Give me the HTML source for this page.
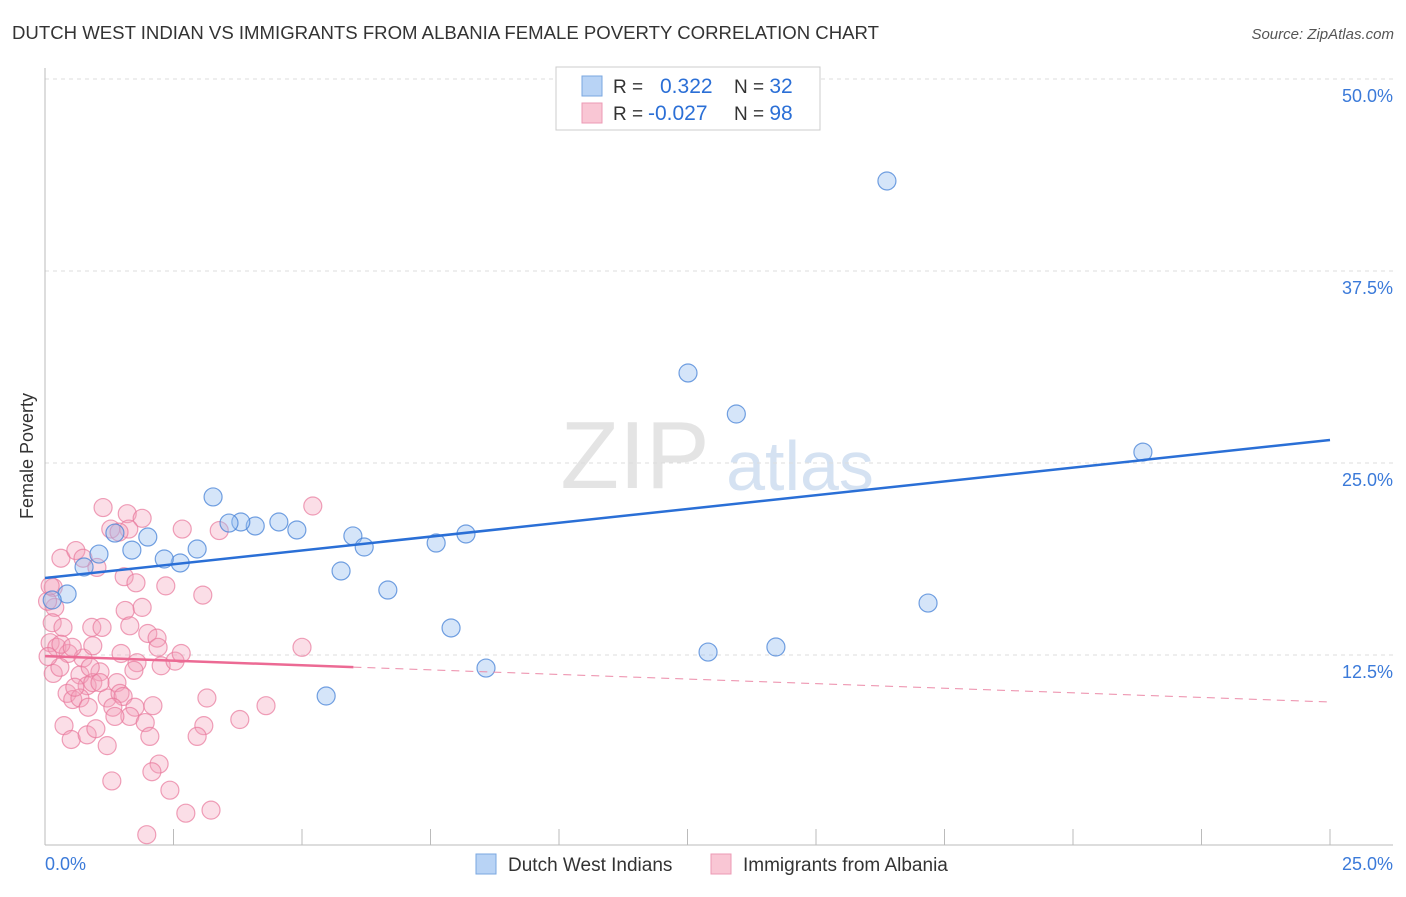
<!DOCTYPE html>
<html><head><meta charset="utf-8"><style>
body{margin:0;background:#fff;font-family:"Liberation Sans",sans-serif;}
svg text{font-family:"Liberation Sans",sans-serif;}
</style></head><body>
<svg id="chart" width="1406" height="892">
<text x="12" y="39" font-size="18" fill="#333" textLength="867" lengthAdjust="spacingAndGlyphs">DUTCH WEST INDIAN VS IMMIGRANTS FROM ALBANIA FEMALE POVERTY CORRELATION CHART</text>
<text x="1394" y="39" font-size="15" fill="#555" font-style="italic" text-anchor="end">Source: ZipAtlas.com</text>
<text x="33" y="456" font-size="18" fill="#333" text-anchor="middle" transform="rotate(-90 33 456)">Female Poverty</text>
<g>
<text x="635" y="488" font-size="96" fill="#e4e4e4" font-family="Liberation Serif" text-anchor="middle">ZIP</text>
<text x="800" y="490" font-size="70" fill="#d5e2f2" text-anchor="middle">atlas</text>
</g>
<g id="grid"></g><g id="axes"></g>
<g id="points"></g><g id="lines"></g>
<g>
<rect x="556" y="67" width="264" height="63" fill="#fff" stroke="#ccc"/>
<rect x="582" y="76" width="20" height="20" fill="#b8d3f5" stroke="#7aa7e0"/>
<rect x="582" y="103" width="20" height="20" fill="#f9c6d4" stroke="#ec9ab4"/>
<text x="613" y="93" font-size="19" fill="#333">R = <tspan fill="#2b6fd6" x="660" font-size="21">0.322</tspan><tspan fill="#333" x="734">N = </tspan><tspan fill="#2b6fd6" font-size="21">32</tspan></text>
<text x="613" y="120" font-size="19" fill="#333">R = <tspan fill="#2b6fd6" x="648" font-size="21">-0.027</tspan><tspan fill="#333" x="734">N = </tspan><tspan fill="#2b6fd6" font-size="21">98</tspan></text>
</g>
<g>
<rect x="476" y="854" width="20" height="20" fill="#b8d3f5" stroke="#7aa7e0"/>
<text x="508" y="871" font-size="19" fill="#333">Dutch West Indians</text>
<rect x="711" y="854" width="20" height="20" fill="#f9c6d4" stroke="#ec9ab4"/>
<text x="743" y="871" font-size="19" fill="#333">Immigrants from Albania</text>
</g>
</svg>
<script>
const yTicks=[12.5,25,37.5,50];
const yTickLabels=["12.5%","25.0%","37.5%","50.0%"];
const xTickLabels=["0.0%","25.0%"];
const blueX=[16.38,12.51,13.45,21.36,17.18,12.90,14.22,8.58,7.90,5.47,6.67,5.76,5.99,6.21,7.61,8.19,4.90,4.55,4.09,3.81,3.58,3.27,2.96,2.63,2.32,2.00,1.69,1.36,1.05,0.76,0.43,0.14];
const blueY=[43.36,30.86,28.19,25.71,15.88,12.69,13.02,11.65,14.26,9.83,16.73,17.97,20.25,19.53,19.79,20.38,20.64,21.16,20.90,21.16,21.09,22.79,19.40,18.49,18.75,20.18,19.33,20.44,19.07,18.23,16.47,16.08];
const pinkX=[1.13,1.60,1.89,1.28,1.63,1.44,2.67,3.39,5.21,0.31,0.60,0.74,1.01,1.54,1.77,2.35,3.07,0.16,0.19,0.14,0.35,1.56,1.89,0.91,1.11,1.65,2.00,2.18,2.20,0.10,0.23,0.45,0.74,0.93,1.48,1.79,1.73,2.26,2.53,2.65,0.16,0.29,0.68,1.07,0.82,0.93,1.40,0.43,0.54,0.68,1.21,1.46,1.52,1.32,1.75,2.10,1.65,1.36,1.95,0.37,0.51,0.82,0.99,1.21,2.04,2.22,2.08,1.30,2.43,2.74,3.23,1.98,3.15,3.09,2.96,3.79,4.30,5.00,0.31,0.53,0.06,0.88,0.58,1.07,0.84,0.05,0.10];
const pinkY=[22.1,21.7,21.4,20.7,20.7,20.5,20.7,20.6,22.2,18.8,19.3,18.8,18.2,17.6,17.2,17.0,16.4,16.9,15.6,14.6,14.3,15.4,15.6,14.3,14.3,14.4,13.9,13.6,13.0,13.3,13.0,12.6,12.3,13.1,12.6,12.0,11.5,11.8,12.1,12.6,11.3,11.7,11.2,11.4,10.5,10.7,10.7,10.0,9.6,9.7,9.7,10.0,9.8,9.1,9.1,9.2,8.5,8.5,8.1,7.9,7.0,7.3,7.7,6.6,7.2,5.4,4.9,4.3,3.7,2.2,2.4,0.8,9.7,7.9,7.2,8.3,9.2,13.0,13.2,13.0,12.4,11.7,10.4,10.7,9.1,16.0,17.0];
const blueTrend=[17.51,26.50];
const pinkTrend=[12.43,9.44];
const pinkSolidEnd=6.0;
const NS="http://www.w3.org/2000/svg";
const X=v=>45+v/25*1285;
const Y=v=>847-v/12.5*192;
function mk(t,a,p){const e=document.createElementNS(NS,t);for(const k in a)e.setAttribute(k,a[k]);p.appendChild(e);return e;}
const grid=document.getElementById('grid'),axes=document.getElementById('axes'),pts=document.getElementById('points'),lines=document.getElementById('lines');
yTicks.forEach((t,i)=>{
 const l=mk('line',{x1:45,x2:1393,y1:Y(t),y2:Y(t),stroke:'#ddd','stroke-dasharray':'4,4'},grid);
 
 
 const tx=mk('text',{x:1393,y:Y(t)+23,'font-size':18,fill:'#3b7ad9','text-anchor':'end'},axes);
 tx.textContent=yTickLabels[i];
 
 
});
const ax=mk('line',{x1:45,x2:1393,y1:845,y2:845,stroke:'#bbb'},axes);


const ay=mk('line',{x1:45,x2:45,y1:68,y2:845,stroke:'#bbb'},axes);


for(let i=1;i<=10;i++){const tk=mk('line',{x1:X(i*2.5),x2:X(i*2.5),y1:829,y2:845,stroke:'#bbb'},axes);
 
 }
[[0,'start',45],[25,'end',1393]].forEach((d,i)=>{const tx=mk('text',{x:d[2],y:870,'font-size':18,fill:'#3b7ad9','text-anchor':d[1]},axes);
 tx.textContent=xTickLabels[i];
 
 });
pinkX.forEach((x,i)=>{const c=mk('circle',{cx:X(x),cy:Y(pinkY[i]),r:9,fill:'rgba(244,160,185,0.35)',stroke:'rgba(232,120,155,0.7)','stroke-width':1.2},pts);
 
 });
blueX.forEach((x,i)=>{const c=mk('circle',{cx:X(x),cy:Y(blueY[i]),r:9,fill:'rgba(150,190,240,0.4)',stroke:'rgba(70,130,215,0.75)','stroke-width':1.2},pts);
 
 });
const bl=mk('line',{x1:X(0),y1:Y(blueTrend[0]),x2:X(25),y2:Y(blueTrend[1]),stroke:'#2a6fd6','stroke-width':2.5},lines);


const py=x=>pinkTrend[0]+(pinkTrend[1]-pinkTrend[0])*x/25;
const pl=mk('line',{x1:X(0),y1:Y(py(0)),x2:X(pinkSolidEnd),y2:Y(py(pinkSolidEnd)),stroke:'#ec6a94','stroke-width':2.5},lines);


const pd=mk('line',{x1:X(pinkSolidEnd),y1:Y(py(pinkSolidEnd)),x2:X(25),y2:Y(py(25)),stroke:'#ec8aa8','stroke-width':1,'stroke-dasharray':'8,6'},lines);


</script>
</body></html>
